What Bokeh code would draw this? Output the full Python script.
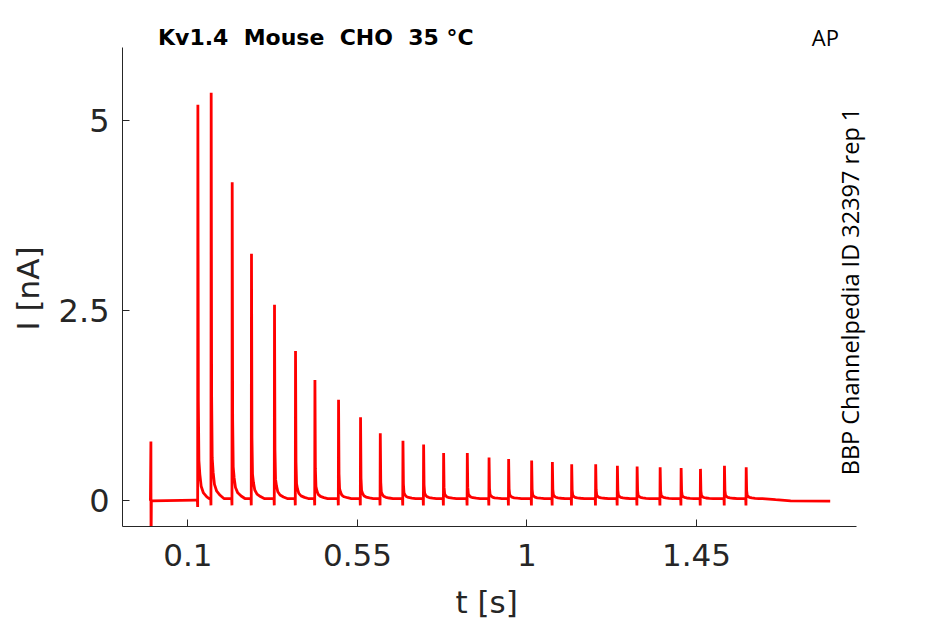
import numpy as np
from bokeh.plotting import figure
from bokeh.models import Label, FixedTicker, Range1d, Title
from bokeh.embed import file_html
from bokeh.resources import INLINE

# ---- text ----
title_text = "Kv1.4\u00a0 Mouse\u00a0 CHO\u00a0 35 °C"
protocol_text = "AP"
source_text = "BBP Channelpedia ID 32397 rep 1"
x_label = "t [s]"
y_label = "I [nA]"

# ---- ticks / axis limits ----
x_ticks = [0.1, 0.55, 1.0, 1.45]
x_tick_labels = ["0.1", "0.55", "1", "1.45"]
y_ticks = [0.0, 2.5, 5.0]
y_tick_labels = ["0", "2.5", "5"]
x_limits = (-0.0736, 1.8747)
y_limits = (-0.338, 5.964)

# ---- data ----
artifact_t = [0.0005, 0.0018, 0.0022, 0.0030]
artifact_v = [0.0, 0.78, -0.60, 0.0]

spike_times = [0.1262, 0.1615, 0.2173, 0.2685, 0.3296, 0.3854, 0.4369, 0.4996,
               0.5580, 0.6104, 0.6706, 0.7254, 0.7785, 0.8414, 0.8991, 0.9511,
               1.0122, 1.0672, 1.1185, 1.1822, 1.2398, 1.2922, 1.3533, 1.4090,
               1.4603, 1.5240, 1.5817]
spike_peaks = [5.21, 5.37, 4.19, 3.25, 2.58, 1.97, 1.59, 1.33,
               1.10, 0.89, 0.79, 0.74, 0.63, 0.63, 0.57, 0.55,
               0.53, 0.51, 0.48, 0.48, 0.46, 0.45, 0.44, 0.43,
               0.42, 0.46, 0.44]
spike_baselines = [0.01, 0.03, 0.03, 0.03, 0.03, 0.03, 0.03, 0.03,
                   0.03, 0.03, 0.03, 0.03, 0.03, 0.03, 0.03, 0.03,
                   0.03, 0.03, 0.03, 0.03, 0.03, 0.03, 0.03, 0.03,
                   0.03, 0.03, 0.03]

template_offsets_ms = [-5.0, -1.0, -0.3, 0.3, 1.5, 3.0, 5.5, 9.0, 15.0, 24.0, 34.0]
template_rel = [0.0, 0.0, 0.0, 1.0, 0.25, 0.10, 0.065, 0.035, 0.018, 0.008, 0.0]
template_dip = [0.0, 0.0, -0.09, 0.0, 0.0, 0.0, 0.0, 0.0, 0.0, 0.0, 0.0]

tail_t = [1.625, 1.66, 1.70, 1.805]
tail_v = [0.03, 0.015, 0.0, -0.005]

# ---- assemble trace ----
ts = list(artifact_t)
vs = list(artifact_v)
n = len(spike_times)
for i in range(n):
    t0 = spike_times[i]
    pk = spike_peaks[i]
    b = spike_baselines[i]
    limit = (spike_times[i + 1] + template_offsets_ms[0] / 1000.0) if i + 1 < n else tail_t[0]
    for off, rel, dip in zip(template_offsets_ms, template_rel, template_dip):
        tt = t0 + off / 1000.0
        if tt < limit:
            ts.append(tt)
            vs.append(b + rel * (pk - b) + dip)
ts += tail_t
vs += tail_v

# ---- figure ----
p = figure(frame_width=813, frame_height=516,
           min_border_left=122, min_border_top=10,
           min_border_right=10, min_border_bottom=98,
           x_range=Range1d(x_limits[0], 2.0845), y_range=Range1d(y_limits[0], 6.451),
           output_backend="svg", toolbar_location=None)
p.background_fill_color = "white"
p.border_fill_color = "white"
p.outline_line_color = None
p.grid.visible = False

p.line(ts, vs, line_color="#ff0000", line_width=2.8)

axis_col = "#262626"
for ax in (p.xaxis[0], p.yaxis[0]):
    ax.axis_line_color = axis_col
    ax.axis_line_width = 1
    ax.major_tick_line_color = axis_col
    ax.major_tick_in = 7
    ax.major_tick_out = 0
    ax.minor_tick_line_color = None
    ax.major_label_text_font = "DejaVu Sans"
    ax.major_label_text_color = axis_col
p.xaxis.major_label_text_font_size = "31px"
p.yaxis.major_label_text_font_size = "32px"

p.xaxis.bounds = x_limits
p.yaxis.bounds = y_limits
p.xaxis.ticker = FixedTicker(ticks=x_ticks)
p.xaxis.major_label_overrides = dict(zip(x_ticks, x_tick_labels))
p.yaxis.ticker = FixedTicker(ticks=y_ticks)
p.yaxis.major_label_overrides = dict(zip(y_ticks, y_tick_labels))
p.xaxis.major_label_standoff = 17
p.yaxis.major_label_standoff = 13

# axis titles placed as side titles so they sit where the reference has them
p.add_layout(Title(text=x_label, align="left", offset=333, standoff=26,
                   vertical_align="bottom",
                   text_font="DejaVu Sans", text_font_size="31px",
                   text_font_style="normal", text_color=axis_col), "below")
p.add_layout(Title(text=y_label, align="left", offset=196, standoff=15,
                   vertical_align="top",
                   text_font="DejaVu Sans", text_font_size="31px",
                   text_font_style="normal", text_color=axis_col), "left")

p.add_layout(Label(x=0.0207, y=6.096, text=title_text, text_font="DejaVu Sans",
                   text_font_size="22px", text_font_style="bold", text_color="black",
                   text_baseline="alphabetic", text_align="left"))
p.add_layout(Label(x=1.792, y=6.096, text=protocol_text, text_font="Open Sans",
                   text_font_size="22px", text_color="black",
                   text_baseline="alphabetic", text_align="center"))
p.add_layout(Label(x=1.8587, y=2.754, text=source_text, text_font="Open Sans",
                   text_font_size="23.5px", text_color="black", angle=np.pi / 2,
                   text_baseline="middle", text_align="center"))

open("out.html", "w").write(file_html(p, INLINE))
